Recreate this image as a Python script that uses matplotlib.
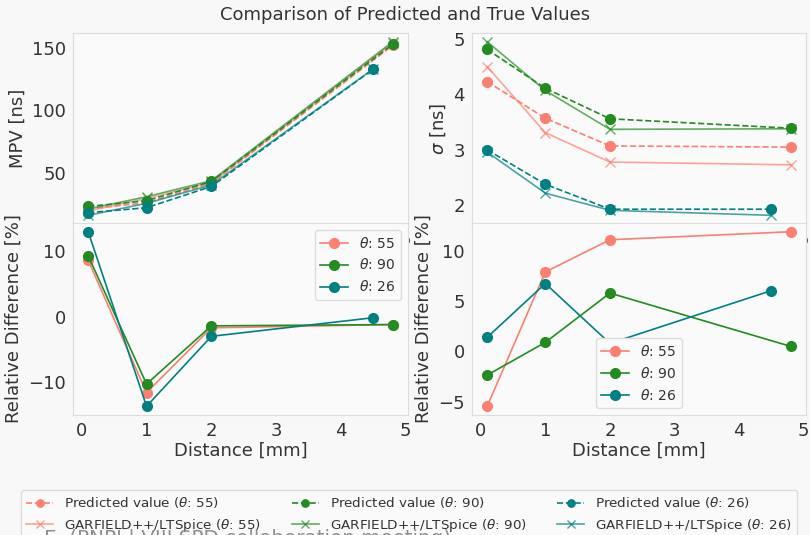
import numpy as np
import matplotlib.pyplot as plt

# distances of the measured points [mm]
dist = [0.1, 1, 2, 4.8]
dist_26 = [0.1, 1, 2, 4.5]
angles = [55, 90, 26]
colors = {55: "salmon", 90: "forestgreen", 26: "teal"}

# most probable value [ns]
mpv_pred = {55: [21.0, 26.0, 41.5, 152.0],
            90: [23.0, 27.6, 43.0, 153.0],
            26: [18.0, 22.0, 39.0, 133.0]}
mpv_garf = {55: [19.4, 29.4, 42.2, 154.0],
            90: [21.0, 30.8, 43.6, 155.0],
            26: [15.9, 25.5, 40.2, 133.2]}
mpv_rel = {55: [8.6, -11.6, -1.7, -1.2],
           90: [9.3, -10.3, -1.4, -1.2],
           26: [13.0, -13.7, -3.0, -0.15]}

# sigma [ns]
sig_pred = {55: [4.23, 3.57, 3.07, 3.05],
            90: [4.81, 4.11, 3.56, 3.39],
            26: [3.00, 2.38, 1.93, 1.93]}
sig_garf = {55: [4.50, 3.31, 2.78, 2.73],
            90: [4.95, 4.07, 3.37, 3.38],
            26: [2.96, 2.22, 1.91, 1.82]}
sig_rel = {55: [-5.45, 7.9, 11.1, 11.9],
           90: [-2.35, 0.9, 5.8, 0.5],
           26: [1.4, 6.75, 0.8, 6.05]}

plt.rcParams['font.family'] = ['DejaVu Sans']
plt.rcParams['text.color'] = '#333333'
plt.rcParams['axes.labelcolor'] = '#333333'
plt.rcParams['xtick.color'] = '#333333'
plt.rcParams['ytick.color'] = '#333333'

W, H = 810, 535
fig = plt.figure(figsize=(W / 100, H / 100), dpi=100, facecolor='#f8f8f8')


def px_axes(x0, y0, x1, y1):
    return fig.add_axes([x0 / W, (H - y1) / H, (x1 - x0) / W, (y1 - y0) / H])


ax_mpv = px_axes(73, 33, 408, 224)
ax_sig = px_axes(472, 33, 806, 224)
ax_mpv_r = px_axes(73, 223, 408, 415)
ax_sig_r = px_axes(472, 223, 806, 415)

for ax in (ax_mpv, ax_sig, ax_mpv_r, ax_sig_r):
    ax.set_facecolor('#fafafa')
    for s in ax.spines.values():
        s.set_color('#dcdcdc')
    ax.tick_params(length=0, labelsize=13, pad=5)

handles = []
for a in angles:
    x = dist_26 if a == 26 else dist
    c = colors[a]
    hp, = ax_mpv.plot(x, mpv_pred[a], '--o', color=c, ms=7, lw=1.2,
                      label=f'Predicted value ($\\theta$: {a})')
    hg, = ax_mpv.plot(x, mpv_garf[a], '-x', color=c, ms=7, lw=1.2, alpha=0.7,
                      label=f'GARFIELD++/LTSpice ($\\theta$: {a})')
    ax_sig.plot(x, sig_pred[a], '--o', color=c, ms=7, lw=1.2)
    ax_sig.plot(x, sig_garf[a], '-x', color=c, ms=7, lw=1.2, alpha=0.7)
    ax_mpv_r.plot(x, mpv_rel[a], '-o', color=c, ms=7, lw=1.2, label=f'$\\theta$: {a}')
    ax_sig_r.plot(x, sig_rel[a], '-o', color=c, ms=7, lw=1.2, label=f'$\\theta$: {a}')
    handles += [hp, hg]

ax_mpv.set_ylabel('MPV [ns]', fontsize=13)
ax_sig.set_ylabel(r'$\sigma$ [ns]', fontsize=13)
ax_mpv_r.set_ylabel('Relative Difference [%]', fontsize=13)
ax_sig_r.set_ylabel('Relative Difference [%]', fontsize=13)
ax_mpv_r.set_xlabel('Distance [mm]', fontsize=13, labelpad=1)
ax_sig_r.set_xlabel('Distance [mm]', fontsize=13, labelpad=1)
ax_sig.set_yticks([2, 3, 4, 5])

leg_kw = dict(fontsize=10, facecolor='#fafafa', edgecolor='#dcdcdc', framealpha=1)
ax_mpv_r.legend(loc='upper right', **leg_kw)
ax_sig_r.legend(loc='lower center', **leg_kw)

fig.suptitle('Comparison of Predicted and True Values', fontsize=13, y=0.988)

fig.legend(handles=handles, loc='upper center', ncol=3, fontsize=9.7,
           bbox_to_anchor=(0.505, (H - 490) / H), borderaxespad=0,
           markerscale=0.75, columnspacing=2.3,
           facecolor='#fafafa', edgecolor='#dcdcdc', framealpha=1)
# slide footer running over the bottom edge
fig.text(44 / W, -0.015, 'E. (PNPI | VIII SPD collaboration meeting)',
         fontsize=14.3, color='#8f8f8f', va='baseline', zorder=10)

fig.savefig('out.png', dpi=100, facecolor=fig.get_facecolor())
